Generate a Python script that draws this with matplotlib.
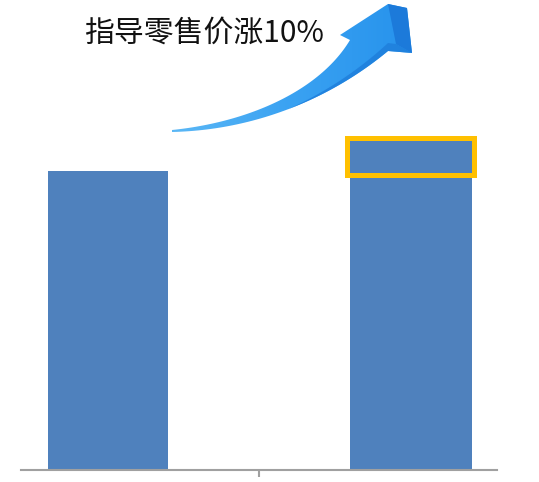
import matplotlib
matplotlib.use("Agg")
import matplotlib.pyplot as plt
import numpy as np
from matplotlib.patches import Rectangle, Polygon
from matplotlib.colors import LinearSegmentedColormap

plt.rcParams['font.family'] = ['Noto Sans CJK SC', 'DejaVu Sans']

# data: old price = 100, new guided retail price +10%
categories = ['原价', '涨价后']
values = [100, 110]
rise_label = '指导零售价涨10%'

W, H = 539, 482
fig = plt.figure(figsize=(W / 100, H / 100), dpi=100)

# bar axes: baseline at y=470px, axis line from x=21 to 497px
ax = fig.add_axes([21 / W, 12 / H, 476 / W, 470 / H])
x = np.arange(len(categories))
bars = ax.bar(x, values, width=[0.396, 0.403], color='#4F81BD', zorder=2)
ax.set_xlim(-0.287, 1.284)
ax.set_ylim(0, 157.2)

# yellow frame round the added 10%
b = bars[1]
pad = 0.008
ax.add_patch(Rectangle((b.get_x() - pad, values[0] - 1.2),
                       b.get_width() + 2 * pad, values[1] - values[0] + 2.1,
                       fill=False, edgecolor='#FFC000', linewidth=3.6,
                       zorder=3, clip_on=False))

for s in ['top', 'left', 'right']:
    ax.spines[s].set_visible(False)
ax.spines['bottom'].set_color('#A0A0A0')
ax.spines['bottom'].set_linewidth(1.5)
ax.set_yticks([])
ax.set_xticks([0.5])
ax.set_xticklabels([''])
ax.tick_params(axis='x', length=5, width=1.5, color='#A0A0A0', direction='out')

# overlay in pixel coords for the curved arrow
ov = fig.add_axes([0, 0, 1, 1])
ov.set_xlim(0, W)
ov.set_ylim(H, 0)
ov.axis('off')
ov.patch.set_alpha(0)


def bez(p0, p1, p2, p3, n=60):
    t = np.linspace(0, 1, n)[:, None]
    p0, p1, p2, p3 = map(np.array, (p0, p1, p2, p3))
    return (1 - t) ** 3 * p0 + 3 * (1 - t) ** 2 * t * p1 + 3 * (1 - t) * t ** 2 * p2 + t ** 3 * p3


upper = bez((172, 130), (250, 122), (320, 90), (350, 40))
lower = bez((388, 51), (335, 95), (260, 130), (172, 132))
head = np.array([(340, 35), (388, 4), (407, 8), (412, 53)])
outline = np.vstack([upper, head, lower])

arrow = Polygon(outline, closed=True, facecolor='none', edgecolor='none')
ov.add_patch(arrow)

cmap = LinearSegmentedColormap.from_list('arr', ['#5DB9F6', '#3AA2F2', '#2692EC'])
grad = np.linspace(0, 1, 256).reshape(1, -1)
im = ov.imshow(grad, extent=(165, 415, 135, 0), cmap=cmap, aspect='auto', zorder=4)
im.set_clip_path(arrow)

# darker underside of the shaft near the head
k = 32
seg = lower[:k]
taper = np.linspace(8, 0, k)[:, None]
inner = (seg - np.hstack([np.zeros_like(taper), taper]))[::-1]
band = np.vstack([[(412, 53)], seg, inner, [(396, 44)]])
ov.add_patch(Polygon(band, closed=True, facecolor='#1F7FDC', edgecolor='none',
                     zorder=5, alpha=0.85))
# side face of the head
ov.add_patch(Polygon([(388, 4), (407, 8), (412, 53), (396, 44)],
                     closed=True, facecolor='#1C7ADA', edgecolor='none', zorder=5))

fig.text(204 / W, 1 - 33 / H, rise_label, fontsize=21.5, color='#111111',
         ha='center', va='center')

fig.savefig('out.png', dpi=100)
